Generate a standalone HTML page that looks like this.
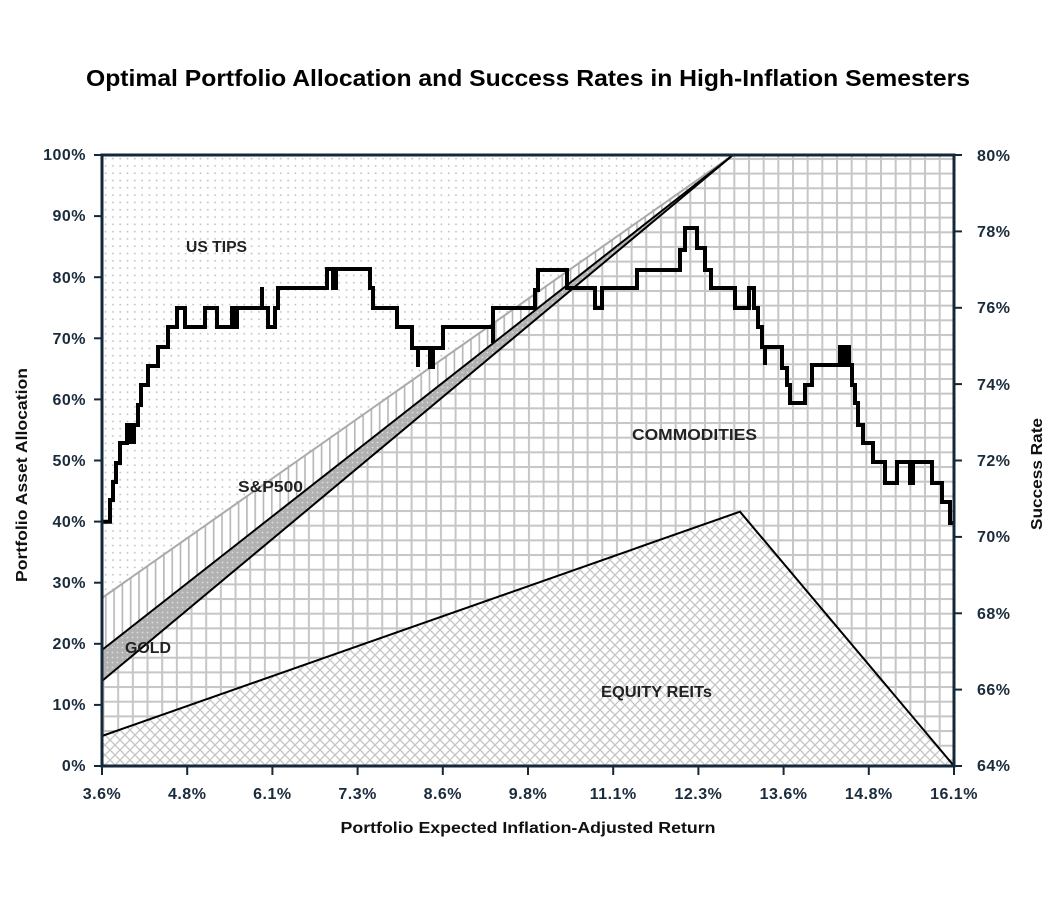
<!DOCTYPE html>
<html>
<head>
<meta charset="utf-8">
<style>
  html,body{margin:0;padding:0;background:#fff;}
  svg{display:block;}
  .tk{font-family:"Liberation Sans",sans-serif;font-weight:bold;font-size:16px;fill:#1a2b3c;letter-spacing:0.5px;}
  .ax{font-family:"Liberation Sans",sans-serif;font-weight:bold;font-size:16px;fill:#111;}
  .rg{font-family:"Liberation Sans",sans-serif;font-weight:bold;font-size:15.5px;fill:#222;}
</style>
</head>
<body>
<svg width="1056" height="908" viewBox="0 0 1056 908" xmlns="http://www.w3.org/2000/svg">
  <defs>
    <pattern id="dots" width="7.3" height="7.3" patternUnits="userSpaceOnUse" x="102" y="155">
      <rect width="7.3" height="7.3" fill="#fff"/>
      <circle cx="3.6" cy="3.6" r="0.9" fill="#c2c2c2"/>
    </pattern>
    <pattern id="vl" width="8.3" height="10" patternUnits="userSpaceOnUse" x="102" y="0">
      <rect width="8.3" height="10" fill="#fff"/>
      <rect x="3" y="0" width="1.6" height="10" fill="#b6b6b6"/>
    </pattern>
    <pattern id="golddots" width="5" height="5" patternUnits="userSpaceOnUse">
      <rect width="5" height="5" fill="#b2b2b2"/>
      <circle cx="2.5" cy="2.5" r="0.9" fill="#dedede"/>
    </pattern>
    <pattern id="grid" width="14.67" height="14.67" patternUnits="userSpaceOnUse" x="102.5" y="99.25">
      <rect width="14.67" height="14.67" fill="#fff"/>
      <rect x="0" y="0" width="2" height="14.67" fill="#c6c6c6"/>
      <rect x="0" y="0" width="14.67" height="2" fill="#c6c6c6"/>
    </pattern>
    <pattern id="xh" width="10" height="10" patternUnits="userSpaceOnUse">
      <rect width="10" height="10" fill="#fff"/>
      <path d="M0,0L10,10M10,0L0,10M-1,9L1,11M9,-1L11,1M-1,1L1,-1M9,11L11,9" stroke="#c4c4c4" stroke-width="1.3" fill="none"/>
    </pattern>
  </defs>

  <rect width="1056" height="908" fill="#fff"/>

  <!-- Title -->
  <text x="528" y="86" text-anchor="middle" textLength="884" lengthAdjust="spacingAndGlyphs"
        style="font-family:'Liberation Sans',sans-serif;font-weight:bold;font-size:23px;fill:#000;">Optimal Portfolio Allocation and Success Rates in High-Inflation Semesters</text>

  <!-- Regions -->
  <polygon points="102,155 733,155 102,598" fill="url(#dots)"/>
  <polygon points="102,598 733,155 102,650" fill="url(#vl)"/>
  <polygon points="102,650 733,155 102,681" fill="url(#golddots)"/>
  <polygon points="102,681 733,155 954,155 954,766 740,511.7 102,736" fill="url(#grid)"/>
  <polygon points="102,736 740,511.7 954,766 102,766" fill="url(#xh)"/>

  <!-- Boundary lines -->
  <line x1="102" y1="598" x2="733" y2="155" stroke="#aaaaaa" stroke-width="2"/>
  <line x1="102" y1="650" x2="733" y2="155" stroke="#000" stroke-width="2"/>
  <line x1="102" y1="681" x2="733" y2="155" stroke="#000" stroke-width="2"/>
  <polyline points="102,736 740,511.7 954,766" fill="none" stroke="#000" stroke-width="2"/>

  <!-- Region labels -->
  <text class="rg" x="186" y="252" textLength="61" lengthAdjust="spacingAndGlyphs">US TIPS</text>
  <text class="rg" x="238" y="492" textLength="65" lengthAdjust="spacingAndGlyphs">S&amp;P500</text>
  <text class="rg" x="125" y="653" textLength="46" lengthAdjust="spacingAndGlyphs">GOLD</text>
  <text class="rg" x="632" y="440" textLength="125" lengthAdjust="spacingAndGlyphs">COMMODITIES</text>
  <text class="rg" x="601" y="697" textLength="111" lengthAdjust="spacingAndGlyphs">EQUITY REITs</text>

  <!-- Success rate line -->
  <path d="M102,521.7 H110 V500 H113 V482 H116 V463 H120 V443 H127 V425 H131 V442 H134 V425 H138 V405 H141 V385 H148 V366 H158 V347 H168 V327 H177 V308 H185 V327 H205 V308 H217 V327 H232 V308 H234 V327 H237 V308 H262 V287 V308 H268 V327 H275 V308 H278 V288 H327 V269 H333 V288 H336 V269 H370 V288 H373 V308 H397 V327 H412 V348 H418 V367 V348 H430 V367 H433 V348 H443 V327 H493 V343 V308 H535 V290 H538 V270 H567 V288 H595 V308 H602 V288 H637 V270 H680 V250 H685 V228 H697 V248 H705 V270 H711 V288 H735 V308 H749 V288 H754 V308 H758 V327 H762 V347 H765 V365 V347 H782 V368 H787 V385 H790 V403 H805 V385 H812 V365 H840 V347 H843 V365 H846 V347 H849 V365 H852 V385 H855 V403 H858 V425 H863 V443 H873 V462 H885 V483 H897 V462 H910 V483 H913 V462 H932 V483 H942 V502 H950 V523 H954"
        fill="none" stroke="#000" stroke-width="4" stroke-linejoin="miter"/>

  <!-- Frame -->
  <rect x="102" y="155" width="852" height="611" fill="none" stroke="#14283a" stroke-width="3"/>

  <!-- Left ticks -->
  <g stroke="#14283a" stroke-width="2">
    <line x1="94" y1="766" x2="102" y2="766"/>
    <line x1="94" y1="704.9" x2="102" y2="704.9"/>
    <line x1="94" y1="643.8" x2="102" y2="643.8"/>
    <line x1="94" y1="582.7" x2="102" y2="582.7"/>
    <line x1="94" y1="521.6" x2="102" y2="521.6"/>
    <line x1="94" y1="460.5" x2="102" y2="460.5"/>
    <line x1="94" y1="399.4" x2="102" y2="399.4"/>
    <line x1="94" y1="338.3" x2="102" y2="338.3"/>
    <line x1="94" y1="277.2" x2="102" y2="277.2"/>
    <line x1="94" y1="216.1" x2="102" y2="216.1"/>
    <line x1="94" y1="155" x2="102" y2="155"/>
  </g>
  <g class="tk" text-anchor="end">
    <text x="86" y="771">0%</text>
    <text x="86" y="710">10%</text>
    <text x="86" y="649">20%</text>
    <text x="86" y="588">30%</text>
    <text x="86" y="527">40%</text>
    <text x="86" y="466">50%</text>
    <text x="86" y="405">60%</text>
    <text x="86" y="344">70%</text>
    <text x="86" y="283">80%</text>
    <text x="86" y="221">90%</text>
    <text x="86" y="160">100%</text>
  </g>

  <!-- Right ticks -->
  <g stroke="#14283a" stroke-width="2">
    <line x1="954" y1="766" x2="962" y2="766"/>
    <line x1="954" y1="689.6" x2="962" y2="689.6"/>
    <line x1="954" y1="613.3" x2="962" y2="613.3"/>
    <line x1="954" y1="536.9" x2="962" y2="536.9"/>
    <line x1="954" y1="460.5" x2="962" y2="460.5"/>
    <line x1="954" y1="384.1" x2="962" y2="384.1"/>
    <line x1="954" y1="307.8" x2="962" y2="307.8"/>
    <line x1="954" y1="231.4" x2="962" y2="231.4"/>
    <line x1="954" y1="155" x2="962" y2="155"/>
  </g>
  <g class="tk" text-anchor="start">
    <text x="977" y="771">64%</text>
    <text x="977" y="695">66%</text>
    <text x="977" y="619">68%</text>
    <text x="977" y="542">70%</text>
    <text x="977" y="466">72%</text>
    <text x="977" y="390">74%</text>
    <text x="977" y="313">76%</text>
    <text x="977" y="237">78%</text>
    <text x="977" y="161">80%</text>
  </g>

  <!-- Bottom ticks -->
  <g stroke="#14283a" stroke-width="2">
    <line x1="102" y1="766" x2="102" y2="775"/>
    <line x1="187.2" y1="766" x2="187.2" y2="775"/>
    <line x1="272.4" y1="766" x2="272.4" y2="775"/>
    <line x1="357.6" y1="766" x2="357.6" y2="775"/>
    <line x1="442.8" y1="766" x2="442.8" y2="775"/>
    <line x1="528" y1="766" x2="528" y2="775"/>
    <line x1="613.2" y1="766" x2="613.2" y2="775"/>
    <line x1="698.4" y1="766" x2="698.4" y2="775"/>
    <line x1="783.6" y1="766" x2="783.6" y2="775"/>
    <line x1="868.8" y1="766" x2="868.8" y2="775"/>
    <line x1="954" y1="766" x2="954" y2="775"/>
  </g>
  <g class="tk" text-anchor="middle">
    <text x="102" y="799">3.6%</text>
    <text x="187.2" y="799">4.8%</text>
    <text x="272.4" y="799">6.1%</text>
    <text x="357.6" y="799">7.3%</text>
    <text x="442.8" y="799">8.6%</text>
    <text x="528" y="799">9.8%</text>
    <text x="613.2" y="799">11.1%</text>
    <text x="698.4" y="799">12.3%</text>
    <text x="783.6" y="799">13.6%</text>
    <text x="868.8" y="799">14.8%</text>
    <text x="954" y="799">16.1%</text>
  </g>

  <!-- Axis titles -->
  <text class="ax" x="528" y="833" text-anchor="middle" textLength="375" lengthAdjust="spacingAndGlyphs">Portfolio Expected Inflation-Adjusted Return</text>
  <text class="ax" transform="translate(27,475) rotate(-90)" text-anchor="middle" textLength="214" lengthAdjust="spacingAndGlyphs">Portfolio Asset Allocation</text>
  <text class="ax" transform="translate(1042,474) rotate(-90)" text-anchor="middle" textLength="112" lengthAdjust="spacingAndGlyphs">Success Rate</text>
</svg>
</body>
</html>
